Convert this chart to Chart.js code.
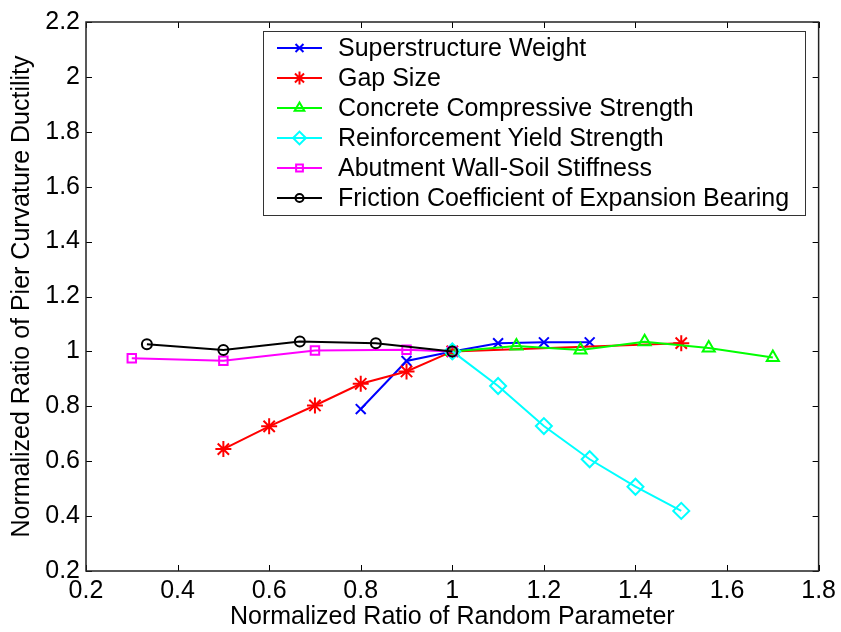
<!DOCTYPE html>
<html>
<head>
<meta charset="utf-8">
<script src="https://cdn.jsdelivr.net/npm/chart.js@4"></script>
<style>
  html, body { margin: 0; padding: 0; background: #fff; }
  #wrap { position: relative; width: 841px; height: 632px; }
</style>
</head>
<body>
<div id="wrap"><canvas id="ductility"></canvas></div>
<script>
// sensitivity of pier curvature ductility to each random parameter
const xSuper = [0.8, 0.9, 1.0, 1.1, 1.2, 1.3];
const ySuper = [0.79, 0.965, 1.0, 1.03, 1.033, 1.033];

const xGap = [0.5, 0.6, 0.7, 0.8, 0.9, 1.0, 1.5];
const yGap = [0.644, 0.727, 0.803, 0.882, 0.927, 1.0, 1.03];

const xConcrete = [1.0, 1.14, 1.28, 1.42, 1.56, 1.70];
const yConcrete = [1.0, 1.02, 1.005, 1.035, 1.012, 0.978];

const xRebar = [1.0, 1.1, 1.2, 1.3, 1.4, 1.5];
const yRebar = [1.0, 0.874, 0.728, 0.607, 0.507, 0.419];

const xAbutment = [0.3, 0.5, 0.7, 0.9, 1.0];
const yAbutment = [0.975, 0.966, 1.003, 1.006, 1.0];

const xFriction = [0.333, 0.5, 0.667, 0.833, 1.0];
const yFriction = [1.026, 1.005, 1.036, 1.03, 1.0];

const seriesNames = [
  'Superstructure Weight',
  'Gap Size',
  'Concrete Compressive Strength',
  'Reinforcement Yield Strength',
  'Abutment Wall-Soil Stiffness',
  'Friction Coefficient of Expansion Bearing'
];

const xTicks = [0.2, 0.4, 0.6, 0.8, 1.0, 1.2, 1.4, 1.6, 1.8];
const yTicks = [0.2, 0.4, 0.6, 0.8, 1.0, 1.2, 1.4, 1.6, 1.8, 2.0, 2.2];

const FONT = "'Liberation Sans', Arial, sans-serif";
const FSIZE = 25;

function pts(xs, ys) {
  return xs.map((x, i) => ({ x: x, y: ys[i] }));
}

function series(idx, xs, ys, color, style, radius, order) {
  return {
    label: seriesNames[idx],
    data: pts(xs, ys),
    showLine: true,
    borderColor: color,
    borderWidth: 2,
    pointStyle: style,
    pointRadius: radius,
    pointHoverRadius: radius,
    pointBorderColor: color,
    pointBackgroundColor: 'rgba(0,0,0,0)',
    pointBorderWidth: 2,
    order: order
  };
}

const datasets = [
  series(0, xSuper, ySuper, '#0000ff', 'crossRot', 7, 5),
  series(1, xGap, yGap, '#ff0000', 'star', 8, 4),
  series(2, xConcrete, yConcrete, '#00ff00', 'triangle', 7, 3),
  series(3, xRebar, yRebar, '#00ffff', 'rectRot', 8, 2),
  series(4, xAbutment, yAbutment, '#ff00ff', 'rect', 6, 1),
  series(5, xFriction, yFriction, '#000000', 'circle', 5, 0)
];

// inward ticks on all four sides of the box
const boxTicks = {
  id: 'boxTicks',
  afterDraw(chart) {
    const { ctx, chartArea: a, scales } = chart;
    const len = 6;
    ctx.save();
    ctx.strokeStyle = '#000';
    ctx.lineWidth = 1;
    ctx.beginPath();
    xTicks.forEach(v => {
      const px = Math.round(scales.x.getPixelForValue(v)) + 0.5;
      ctx.moveTo(px, a.bottom); ctx.lineTo(px, a.bottom - len);
      ctx.moveTo(px, a.top); ctx.lineTo(px, a.top + len);
    });
    yTicks.forEach(v => {
      const py = Math.round(scales.y.getPixelForValue(v)) + 0.5;
      ctx.moveTo(a.left, py); ctx.lineTo(a.left + len, py);
      ctx.moveTo(a.right, py); ctx.lineTo(a.right - len, py);
    });
    ctx.stroke();
    ctx.strokeStyle = '#222';
    ctx.lineWidth = 1.5;
    ctx.strokeRect(a.left, a.top, a.right - a.left, a.bottom - a.top);
    ctx.restore();
  }
};

// boxed legend in the upper right of the plot
const boxLegend = {
  id: 'boxLegend',
  afterDraw(chart) {
    const { ctx } = chart;
    const left = 263, top = 31, right = 805, rowH = 30;
    const bottom = top + rowH * seriesNames.length + 4;
    ctx.save();
    ctx.fillStyle = '#fff';
    ctx.fillRect(left, top, right - left, bottom - top);
    ctx.strokeStyle = '#333';
    ctx.lineWidth = 1;
    ctx.strokeRect(left + 0.5, top + 0.5, right - left, bottom - top);
    chart.data.datasets.forEach((ds, i) => {
      const cy = top + 17 + i * rowH;
      ctx.strokeStyle = ds.borderColor;
      ctx.lineWidth = 2;
      ctx.beginPath();
      ctx.moveTo(277, cy); ctx.lineTo(322, cy);
      ctx.stroke();
      ctx.fillStyle = 'rgba(0,0,0,0)';
      Chart.helpers.drawPoint(ctx, {
        pointStyle: ds.pointStyle,
        radius: ds.pointRadius * 0.8,
        rotation: 0,
        borderWidth: 2
      }, 299.5, cy);
      ctx.fillStyle = '#000';
      ctx.font = FSIZE + 'px ' + FONT;
      ctx.textBaseline = 'middle';
      ctx.textAlign = 'left';
      ctx.fillText(ds.label, 338, cy + 1);
    });
    ctx.restore();
  }
};

new Chart(document.getElementById('ductility'), {
  type: 'scatter',
  data: { datasets: datasets },
  options: {
    responsive: true,
    maintainAspectRatio: false,
    animation: false,
    layout: { padding: { top: 22, right: 20, left: 0, bottom: 0 } },
    plugins: {
      legend: { display: false },
      tooltip: { enabled: false }
    },
    scales: {
      x: {
        type: 'linear',
        min: 0.2,
        max: 1.8,
        afterBuildTicks(scale) { scale.ticks = xTicks.map(v => ({ value: v })); },
        afterFit(scale) { scale.height = 61; },
        grid: { display: false, drawTicks: false },
        border: { display: false },
        ticks: {
          color: '#000',
          padding: 5,
          font: { family: FONT, size: FSIZE },
          maxRotation: 0,
          callback: v => String(Math.round(v * 10) / 10)
        },
        title: {
          display: true,
          text: 'Normalized Ratio of Random Parameter',
          color: '#000',
          padding: { top: 0, bottom: 0 },
          font: { family: FONT, size: FSIZE }
        }
      },
      y: {
        type: 'linear',
        min: 0.2,
        max: 2.2,
        afterBuildTicks(scale) { scale.ticks = yTicks.map(v => ({ value: v })); },
        afterFit(scale) { scale.width = 86; },
        grid: { display: false, drawTicks: false },
        border: { display: false },
        ticks: {
          color: '#000',
          padding: 6,
          font: { family: FONT, size: FSIZE },
          callback: v => String(Math.round(v * 10) / 10)
        },
        title: {
          display: true,
          text: 'Normalized Ratio of Pier Curvature Ductility',
          color: '#000',
          padding: { top: 7, bottom: 0 },
          font: { family: FONT, size: FSIZE }
        }
      }
    }
  },
  plugins: [boxTicks, boxLegend]
});
</script>
</body>
</html>
